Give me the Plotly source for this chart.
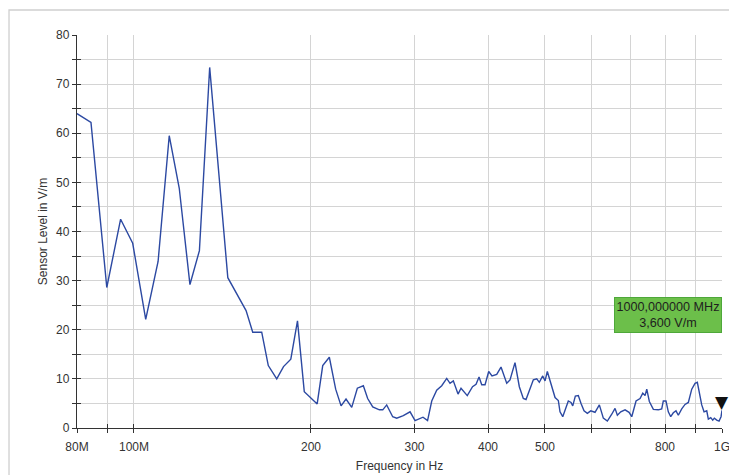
import plotly.graph_objects as go
import math

freq_mhz = [80, 84.5, 89.9, 94.9, 99.5, 104.7, 109.9, 114.8, 119.4, 124.5, 129.2, 134.5,
            144.4, 155.1, 159.2, 164.9, 169.2, 174.9, 179.6, 184.8, 189.7, 194.8, 204.9,
            209.4, 214.9, 220.3, 225.0, 229.4, 234.6, 239.8, 245.5, 249.7, 254.7, 261.4,
            264.9, 269.0, 275.4, 279.8, 287.1, 294.8, 300.6, 310.1, 315.7, 320.9, 327.2,
            333.7, 340.3, 344.7, 349.2, 355.7, 359.9, 368.8, 376.5, 381.7, 386.2, 390.3,
            395.4, 401.1, 406.3, 413.9, 420.9, 430.4, 436.0, 444.6, 452.2, 459.3, 464.2,
            470.2, 477.7, 484.1, 489.0, 495.6, 500.1, 504.6, 513.4, 520.1, 526.8, 530.3,
            536.0, 542.9, 547.8, 553.7, 557.4, 563.1, 569.7, 575.8, 582.6, 590.2, 598.1,
            608.2, 618.6, 628.3, 638.3, 649.4, 657.8, 663.8, 672.7, 684.1, 694.9, 702.3,
            714.2, 725.5, 733.2, 739.9, 744.8, 752.4, 764.3, 779.4, 789.7, 794.7, 803.1,
            810.4, 818.1, 826.4, 835.2, 842.8, 854.1, 865.2, 876.5, 888.3, 899.8, 907.9,
            915.1, 923.7, 932.1, 942.0, 947.9, 956.9, 964.4, 970.5, 979.6, 988.5, 996.2,
            1000]
level_vm = [64.0, 62.2, 28.6, 42.5, 37.6, 22.1, 33.9, 59.5, 48.8, 29.2, 36.1, 73.4,
            30.6, 23.9, 19.5, 19.5, 12.7, 10.0, 12.5, 14.0, 21.8, 7.4, 4.9,
            12.7, 14.4, 7.9, 4.5, 5.9, 4.2, 8.1, 8.6, 6.0, 4.3, 3.7,
            3.7, 4.7, 2.3, 2.0, 2.5, 3.3, 1.5, 2.2, 1.5, 5.5, 7.7,
            8.6, 10.1, 9.1, 9.6, 6.9, 8.1, 6.6, 8.4, 8.9, 10.4, 8.8,
            8.8, 11.5, 10.6, 10.9, 12.4, 9.1, 9.8, 13.3, 8.4, 6.0, 5.8,
            7.7, 9.8, 10.0, 9.3, 10.6, 9.6, 11.5, 8.4, 6.2, 5.6, 3.3,
            2.3, 4.0, 5.5, 5.2, 4.5, 6.5, 6.6, 5.0, 3.5, 3.0, 3.5,
            3.2, 4.7, 2.0, 1.4, 2.8, 4.0, 2.6, 3.3, 3.7, 3.2, 2.3,
            5.5, 6.0, 7.1, 6.6, 7.9, 5.4, 3.8, 3.7, 3.9, 5.5, 5.5,
            3.3, 2.3, 3.1, 3.5, 2.6, 3.9, 4.8, 5.2, 7.9, 9.1, 9.3,
            7.1, 4.7, 3.3, 3.5, 1.8, 2.1, 1.6, 2.0, 1.6, 1.4, 2.3,
            3.6]

x_tickvals = [80, 90, 100, 200, 300, 400, 500, 600, 700, 800, 900, 1000]
x_ticktext = ["80M", "", "100M", "200", "300", "400", "500", "", "", "800", "", "1G"]
y_tickvals = [0, 5, 10, 15, 20, 25, 30, 35, 40, 45, 50, 55, 60, 65, 70, 75, 80]
y_ticktext = ["0", "", "10", "", "20", "", "30", "", "40", "", "50", "", "60", "", "70", "", "80"]

marker_freq = 1000
marker_level = 3.6
marker_text = "1000,000000 MHz<br>3,600 V/m"

xr = [math.log10(80), math.log10(1000)]
yr = [0, 80]

fig = go.Figure()
fig.add_trace(go.Scatter(x=freq_mhz, y=level_vm, mode="lines",
                         line=dict(color="#2c49a2", width=1.4), showlegend=False,
                         hoverinfo="skip"))
fig.add_trace(go.Scatter(x=[marker_freq], y=[marker_level], xaxis="x2", yaxis="y2",
                         mode="markers", marker=dict(opacity=0), showlegend=False,
                         hoverinfo="skip"))

font_family = "Liberation Sans, Arial, sans-serif"
axis_common = dict(showline=True, linecolor="#333333", linewidth=1.3, tickcolor="#333333",
                   tickwidth=1.3, ticklen=4, gridcolor="#d4d4d4", gridwidth=1.3,
                   tickfont=dict(size=12, color="#333333", family=font_family),
                   zeroline=False, automargin=False)
overlay_common = dict(showticklabels=False, ticks="inside", ticklen=4, tickwidth=1.3,
                      tickcolor="#333333", showgrid=False, showline=False, zeroline=False,
                      automargin=False)

fig.update_layout(
    width=729, height=467,
    margin=dict(l=69, r=15, t=27, b=47),
    paper_bgcolor="white", plot_bgcolor="white",
    font=dict(family=font_family, color="#333333", size=12),
    xaxis=dict(type="log", range=xr, tickvals=x_tickvals, ticktext=x_ticktext,
               ticks="outside", showgrid=True, ticklabelstandoff=3,
               title=dict(text="Frequency in Hz", font=dict(size=12), standoff=9),
               **axis_common),
    yaxis=dict(range=yr, tickvals=y_tickvals, ticktext=y_ticktext, ticks="outside",
               showgrid=True,
               title=dict(text="Sensor Level in V/m", font=dict(size=12), standoff=5),
               **axis_common),
    xaxis2=dict(type="log", range=xr, overlaying="x", side="bottom", tickvals=x_tickvals,
                **overlay_common),
    yaxis2=dict(range=yr, overlaying="y", side="left", tickvals=y_tickvals,
                **overlay_common),
    shapes=[dict(type="rect", xref="paper", yref="paper", x0=-0.1054, x1=1.2,
                 y0=-0.3, y1=1.0636, line=dict(color="#cfcfcf", width=1.3), layer="below")],
    annotations=[
        dict(x=1, xref="paper", xanchor="right", y=23.0, yref="y", yanchor="middle",
             text=marker_text, showarrow=False, align="center",
             font=dict(size=12.6, color="#1e1e1e", family=font_family),
             bgcolor="#6cbf4a", bordercolor="#4ea83a", borderwidth=1,
             width=104, height=32),
        dict(x=math.log10(marker_freq), y=marker_level, xref="x", yref="y",
             text="▼", showarrow=False, yanchor="bottom", yshift=-4,
             font=dict(size=17, color="#111111", family="DejaVu Sans")),
    ],
)

fig.write_html("out.html")
